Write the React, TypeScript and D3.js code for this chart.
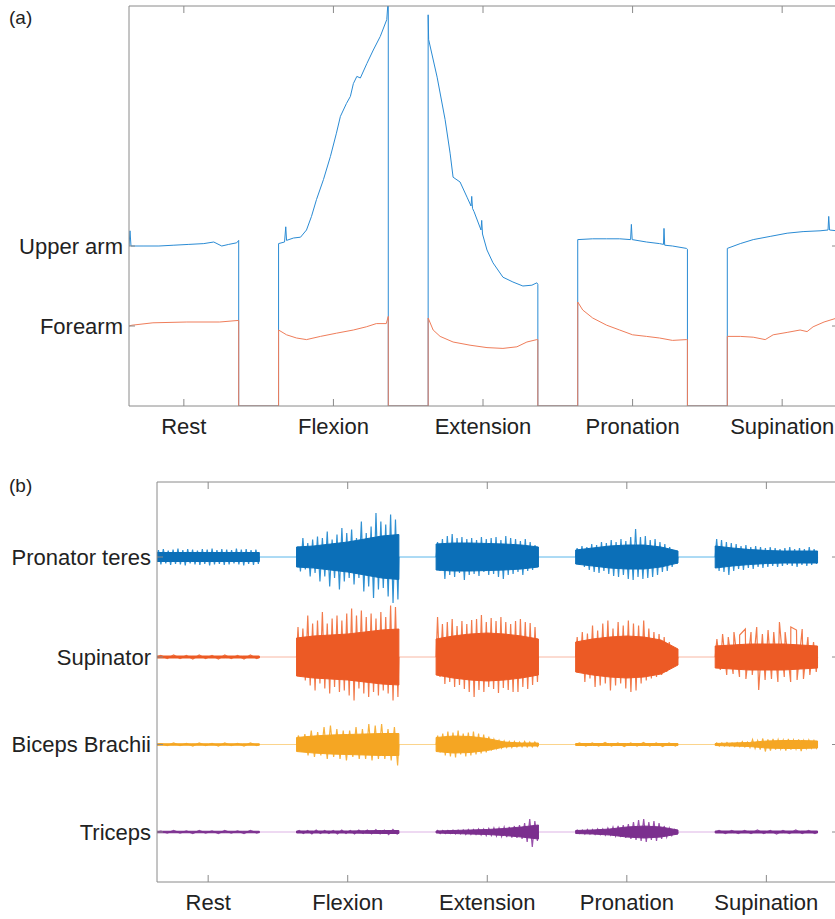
import React from 'react';
import * as d3 from 'd3';

// ---------- shared phase layout ----------
const phases = ['Rest', 'Flexion', 'Extension', 'Pronation', 'Supination'];
const phaseStart = [0, 15, 30, 45, 60];
const phaseLength = 11;

// ---------- (a) segment orientation signals: [t within phase, value] ----------
const upperArm: number[][][] = [
  [[0, 2.0], [0.1, 2.19], [0.2, 2.0], [1.5, 2.0], [3, 2.0], [4.5, 2.01], [6, 2.02], [7.5, 2.03], [8.5, 2.05], [9.3, 2.0], [10, 2.02], [10.8, 2.04], [11, 2.07]],
  [[0, 2.03], [0.6, 2.05], [0.72, 2.24], [0.8, 2.07], [1.5, 2.1], [2.2, 2.11], [2.8, 2.2], [3.3, 2.37], [3.8, 2.58], [4.5, 2.83], [5.2, 3.12], [5.8, 3.41], [6.2, 3.62], [6.8, 3.78], [7.2, 3.87], [7.5, 4.03], [7.85, 4.12], [8.2, 4.1], [8.85, 4.28], [9.5, 4.45], [10.2, 4.62], [10.85, 4.83], [11, 5.1]],
  [[0, 4.89], [0.05, 4.58], [0.9, 4.11], [1.7, 3.58], [2.2, 3.16], [2.5, 2.86], [3.2, 2.8], [3.9, 2.61], [4.3, 2.5], [4.37, 2.62], [4.45, 2.47], [4.6, 2.43], [5.3, 2.2], [5.37, 2.32], [5.45, 2.15], [5.9, 1.95], [6.5, 1.79], [7.5, 1.61], [8.5, 1.55], [9.5, 1.5], [10.4, 1.51], [10.9, 1.54], [11, 1.52]],
  [[0, 2.08], [1.5, 2.09], [2.9, 2.09], [4.2, 2.09], [5.3, 2.08], [5.38, 2.27], [5.46, 2.08], [6.9, 2.05], [8.2, 2.03], [8.6, 2.02], [8.65, 2.22], [8.72, 2.01], [9.5, 2.0], [10.9, 1.97], [11, 1.96]],
  [[0, 1.97], [1.3, 2.03], [2.6, 2.08], [4.3, 2.12], [6.0, 2.16], [7.6, 2.18], [9.3, 2.19], [10.1, 2.2], [10.17, 2.37], [10.25, 2.2], [11, 2.19]],
];
const forearm: number[][][] = [
  [[0, 1.0], [0.3, 1.01], [2.4, 1.04], [5.8, 1.05], [9.1, 1.05], [11, 1.07]],
  [[0, 0.95], [0.8, 0.89], [1.8, 0.85], [2.8, 0.83], [4.2, 0.87], [5.8, 0.91], [7.5, 0.95], [8.8, 0.99], [9.8, 1.03], [10.8, 1.03], [11, 1.12]],
  [[0, 1.1], [0.5, 0.95], [1.2, 0.87], [2.5, 0.8], [4.2, 0.76], [5.9, 0.73], [7.5, 0.72], [8.9, 0.74], [9.9, 0.8], [10.9, 0.83], [11, 0.83]],
  [[0, 1.3], [0.5, 1.2], [1.5, 1.1], [2.9, 1.01], [4.2, 0.95], [5.5, 0.89], [6.9, 0.87], [8.2, 0.85], [9.5, 0.82], [10.9, 0.83], [11, 0.83]],
  [[0, 0.87], [1.3, 0.87], [2.6, 0.86], [3.8, 0.83], [4.6, 0.89], [6.0, 0.92], [7.3, 0.95], [8.0, 0.93], [8.6, 0.99], [9.7, 1.05], [11, 1.1]],
];
const segmentLabels = ['Upper arm', 'Forearm'];
const segmentTicks = [2, 1];

// ---------- (b) EMG bursts: positive peaks, negative peaks, dense core half-width ----------
const muscles = ['Pronator teres', 'Supinator', 'Biceps Brachii', 'Triceps'];
const muscleOffsets = [6.5, 4.5, 2.75, 1.0];

const pronatorUp = [
  [0.14, 0.16, 0.13, 0.15, 0.17, 0.14, 0.16, 0.15, 0.13, 0.16, 0.15, 0.17, 0.14, 0.16, 0.15, 0.14, 0.17, 0.15, 0.16, 0.14, 0.15],
  [0.21, 0.38, 0.28, 0.35, 0.41, 0.38, 0.51, 0.35, 0.45, 0.58, 0.48, 0.55, 0.38, 0.71, 0.48, 0.61, 0.88, 0.71, 0.65, 0.85, 0.75],
  [0.3, 0.36, 0.42, 0.46, 0.38, 0.4, 0.36, 0.38, 0.34, 0.4, 0.36, 0.38, 0.4, 0.34, 0.42, 0.38, 0.36, 0.32, 0.36, 0.3, 0.24],
  [0.18, 0.22, 0.2, 0.26, 0.24, 0.3, 0.28, 0.34, 0.3, 0.36, 0.32, 0.4, 0.56, 0.4, 0.42, 0.34, 0.36, 0.3, 0.26, 0.2, 0.14],
  [0.36, 0.34, 0.3, 0.28, 0.26, 0.22, 0.24, 0.2, 0.22, 0.2, 0.18, 0.2, 0.18, 0.16, 0.18, 0.2, 0.16, 0.18, 0.16, 0.2, 0.16],
];
const pronatorDown = [
  [0.15, 0.13, 0.16, 0.14, 0.15, 0.17, 0.13, 0.15, 0.16, 0.14, 0.17, 0.15, 0.14, 0.16, 0.15, 0.13, 0.15, 0.17, 0.14, 0.16, 0.14],
  [0.29, 0.25, 0.39, 0.32, 0.49, 0.39, 0.59, 0.42, 0.65, 0.49, 0.42, 0.55, 0.42, 0.69, 0.59, 0.82, 0.65, 0.62, 0.79, 0.92, 0.85],
  [0.28, 0.44, 0.36, 0.4, 0.32, 0.46, 0.36, 0.34, 0.38, 0.3, 0.36, 0.34, 0.4, 0.44, 0.36, 0.34, 0.3, 0.36, 0.28, 0.26, 0.2],
  [0.16, 0.2, 0.26, 0.3, 0.32, 0.28, 0.34, 0.38, 0.4, 0.36, 0.44, 0.46, 0.4, 0.44, 0.42, 0.4, 0.36, 0.3, 0.28, 0.2, 0.14],
  [0.28, 0.3, 0.36, 0.28, 0.24, 0.26, 0.22, 0.24, 0.2, 0.22, 0.2, 0.18, 0.2, 0.18, 0.16, 0.18, 0.2, 0.16, 0.18, 0.16, 0.14],
];
const pronatorCore = [
  [0.09, 0.09, 0.09, 0.09, 0.09, 0.09, 0.09],
  [0.2, 0.22, 0.26, 0.3, 0.36, 0.42, 0.45],
  [0.26, 0.28, 0.28, 0.27, 0.26, 0.24, 0.2],
  [0.14, 0.18, 0.22, 0.24, 0.24, 0.2, 0.12],
  [0.22, 0.18, 0.15, 0.13, 0.12, 0.12, 0.12],
];

const supinatorUp = [
  [0.03, 0.04, 0.03, 0.04, 0.03, 0.04, 0.03, 0.04],
  [0.6, 0.57, 0.83, 0.67, 0.73, 0.9, 0.67, 0.77, 0.83, 0.73, 0.87, 0.97, 0.83, 0.93, 0.8, 0.87, 0.77, 0.9, 0.8, 1.03, 1.0],
  [0.8, 0.66, 0.7, 0.76, 0.62, 0.72, 0.66, 0.74, 0.76, 0.84, 0.7, 0.78, 0.72, 0.8, 0.7, 0.66, 0.72, 0.76, 0.7, 0.68, 0.6],
  [0.4, 0.5, 0.47, 0.63, 0.53, 0.67, 0.73, 0.57, 0.7, 0.63, 0.73, 0.67, 0.63, 0.73, 0.57, 0.5, 0.46, 0.4, 0.3, 0.13],
  [0.36, 0.46, 0.4, 0.5, 0.44, 0.56, 0.5, 0.6, 0.46, 0.54, 0.5, 0.7, 0.5, 0.6, 0.54, 0.56, 0.4, 0.3],
];
const supinatorDown = [
  [0.03, 0.03, 0.04, 0.03, 0.04, 0.03, 0.04, 0.03],
  [0.4, 0.47, 0.57, 0.67, 0.53, 0.63, 0.73, 0.6, 0.7, 0.67, 0.77, 0.87, 0.63, 0.73, 0.8, 0.7, 0.77, 0.67, 0.73, 0.87, 0.8],
  [0.4, 0.54, 0.5, 0.6, 0.56, 0.64, 0.7, 0.8, 0.66, 0.7, 0.6, 0.64, 0.72, 0.62, 0.66, 0.7, 0.7, 0.6, 0.64, 0.56, 0.5],
  [0.3, 0.5, 0.43, 0.6, 0.57, 0.53, 0.67, 0.57, 0.53, 0.63, 0.7, 0.67, 0.53, 0.47, 0.43, 0.4, 0.36, 0.3, 0.2, 0.1],
  [0.26, 0.36, 0.34, 0.4, 0.44, 0.36, 0.66, 0.46, 0.44, 0.5, 0.4, 0.5, 0.46, 0.44, 0.36, 0.3],
];
const supinatorCore = [
  [0.02, 0.02, 0.02, 0.02, 0.02, 0.02, 0.02],
  [0.38, 0.42, 0.44, 0.46, 0.5, 0.54, 0.56],
  [0.36, 0.42, 0.46, 0.48, 0.46, 0.42, 0.36],
  [0.3, 0.36, 0.4, 0.42, 0.4, 0.34, 0.16],
  [0.22, 0.24, 0.26, 0.26, 0.26, 0.24, 0.22],
];

const bicepsUp = [
  [0.02, 0.03, 0.02, 0.03, 0.02, 0.03, 0.02, 0.03],
  [0.18, 0.21, 0.28, 0.25, 0.35, 0.38, 0.31, 0.28, 0.28, 0.35, 0.31, 0.41, 0.38, 0.41, 0.31, 0.35],
  [0.18, 0.22, 0.26, 0.24, 0.28, 0.22, 0.24, 0.26, 0.22, 0.2, 0.16, 0.1, 0.08, 0.07, 0.06, 0.06, 0.05, 0.06, 0.05, 0.05],
  [0.03, 0.03, 0.04, 0.03, 0.03, 0.04, 0.03, 0.03],
  [0.03, 0.03, 0.04, 0.03, 0.04, 0.06, 0.05, 0.1, 0.08, 0.12, 0.1, 0.11, 0.1, 0.09, 0.11, 0.09, 0.1, 0.08, 0.09, 0.08],
];
const bicepsDown = [
  [0.02, 0.02, 0.03, 0.02, 0.03, 0.02, 0.03, 0.02],
  [0.15, 0.22, 0.25, 0.22, 0.29, 0.25, 0.29, 0.32, 0.25, 0.29, 0.29, 0.32, 0.29, 0.29, 0.32, 0.42],
  [0.16, 0.22, 0.24, 0.26, 0.2, 0.24, 0.22, 0.2, 0.18, 0.16, 0.12, 0.08, 0.07, 0.06, 0.06, 0.05, 0.05, 0.05, 0.05, 0.04],
  [0.03, 0.03, 0.03, 0.04, 0.03, 0.03, 0.04, 0.03],
  [0.03, 0.03, 0.03, 0.04, 0.04, 0.05, 0.06, 0.08, 0.1, 0.14, 0.12, 0.1, 0.09, 0.12, 0.1, 0.09, 0.13, 0.08, 0.07, 0.07],
];
const bicepsCore = [
  [0.015, 0.015, 0.015, 0.015, 0.015, 0.015, 0.015],
  [0.14, 0.17, 0.19, 0.2, 0.21, 0.22, 0.22],
  [0.14, 0.17, 0.16, 0.12, 0.05, 0.03, 0.03],
  [0.02, 0.02, 0.02, 0.02, 0.02, 0.02, 0.02],
  [0.02, 0.03, 0.04, 0.07, 0.08, 0.08, 0.07],
];

const tricepsUp = [
  [0.02, 0.03, 0.02, 0.03, 0.02, 0.03, 0.02, 0.03],
  [0.03, 0.03, 0.04, 0.03, 0.03, 0.04, 0.03, 0.04, 0.04, 0.05, 0.04, 0.05],
  [0.03, 0.03, 0.03, 0.04, 0.04, 0.04, 0.05, 0.05, 0.06, 0.06, 0.07, 0.08, 0.08, 0.1, 0.1, 0.12, 0.14, 0.18, 0.26, 0.22],
  [0.04, 0.04, 0.05, 0.05, 0.06, 0.06, 0.08, 0.1, 0.12, 0.14, 0.16, 0.2, 0.24, 0.26, 0.2, 0.22, 0.18, 0.12, 0.08, 0.05],
  [0.03, 0.03, 0.03, 0.04, 0.03, 0.03, 0.04, 0.03],
];
const tricepsDown = [
  [0.02, 0.02, 0.03, 0.02, 0.03, 0.02, 0.03, 0.02],
  [0.03, 0.04, 0.03, 0.03, 0.04, 0.03, 0.04, 0.03, 0.04, 0.04, 0.05, 0.04],
  [0.03, 0.03, 0.03, 0.04, 0.04, 0.05, 0.05, 0.05, 0.06, 0.07, 0.07, 0.08, 0.09, 0.1, 0.11, 0.12, 0.14, 0.2, 0.3, 0.18],
  [0.03, 0.04, 0.04, 0.05, 0.05, 0.06, 0.06, 0.08, 0.1, 0.12, 0.14, 0.16, 0.18, 0.2, 0.16, 0.18, 0.14, 0.1, 0.07, 0.04],
  [0.03, 0.03, 0.03, 0.03, 0.04, 0.03, 0.03, 0.03],
];
const tricepsCore = [
  [0.015, 0.015, 0.015, 0.015, 0.015, 0.015, 0.015],
  [0.02, 0.02, 0.02, 0.02, 0.025, 0.03, 0.03],
  [0.02, 0.03, 0.04, 0.05, 0.07, 0.1, 0.14],
  [0.03, 0.04, 0.06, 0.1, 0.12, 0.1, 0.04],
  [0.02, 0.02, 0.02, 0.02, 0.02, 0.02, 0.02],
];

const emgUp = [pronatorUp, supinatorUp, bicepsUp, tricepsUp];
const emgDown = [pronatorDown, supinatorDown, bicepsDown, tricepsDown];
const emgCore = [pronatorCore, supinatorCore, bicepsCore, tricepsCore];

// ---------- styles ----------
const FONT = '"Liberation Sans", Arial, Helvetica, sans-serif';
const AXIS = '#8a8a8a';
const TEXT = '#222222';
const topColors = ['#2a8bd4', '#ef7d5a'];
const emgColors = [
  { core: '#0b6fb8', fringe: '#2f90d2', base: '#5ab6ea' },
  { core: '#ec5a25', fringe: '#f27a4b', base: '#f8b7a3' },
  { core: '#f5a623', fringe: '#f7b13c', base: '#fbd48c' },
  { core: '#7b2f8e', fringe: '#9850aa', base: '#ddb3e5' },
];

const A = { left: 129, right: 838, top: 6, bottom: 406 };
const B = { left: 157, right: 838, top: 482, bottom: 882 };

export default function App() {
  const xA = d3.scaleLinear().domain([0, 71.1]).range([A.left, A.right]);
  const yA = d3.scaleLinear().domain([0, 5]).range([A.bottom, A.top]);
  const xB = d3.scaleLinear().domain([0, 73.2]).range([B.left, B.right]);
  const yB = d3.scaleLinear().domain([0, 8]).range([B.bottom, B.top]);

  const tickPos = phaseStart.map((s) => s + phaseLength / 2);

  // build (a) series with zero in the gaps
  const buildSeries = (segs: number[][][]) => {
    const pts: [number, number][] = [];
    segs.forEach((seg, k) => {
      const s = phaseStart[k];
      if (k > 0) pts.push([s, 0]);
      seg.forEach(([t, v]) => pts.push([s + t, v]));
      pts.push([s + phaseLength, 0]);
    });
    return pts;
  };
  const lineA = d3.line<[number, number]>().x((d) => xA(d[0])).y((d) => yA(d[1]));
  const seriesA = [buildSeries(upperArm), buildSeries(forearm)];

  const areaCore = d3
    .area<[number, number, number]>()
    .x((d) => d[0])
    .y0((d) => d[1])
    .y1((d) => d[2]);

  const fs = 22;

  return (
    <svg
      width={835}
      height={919}
      style={{ position: 'absolute', left: 0, top: 0, background: '#fff' }}
      fontFamily={FONT}
    >
      <defs>
        <clipPath id="clipA">
          <rect x={A.left} y={A.top} width={A.right - A.left} height={A.bottom - A.top} />
        </clipPath>
        <clipPath id="clipB">
          <rect x={B.left} y={B.top} width={B.right - B.left} height={B.bottom - B.top} />
        </clipPath>
      </defs>
      <rect x={0} y={0} width={835} height={919} fill="#fff" />

      {/* ---------------- panel (a) ---------------- */}
      <text x={9} y={24} fontSize={19} fill={TEXT}>(a)</text>
      <g clipPath="url(#clipA)">
        {seriesA.map((pts, i) => (
          <path key={i} d={lineA(pts) || ''} fill="none" stroke={topColors[i]} strokeWidth={1} strokeLinejoin="round" />
        ))}
      </g>
      <g stroke={AXIS} strokeWidth={1} fill="none">
        <line x1={A.left} x2={A.right} y1={A.top} y2={A.top} />
        <line x1={A.left} x2={A.right} y1={A.bottom} y2={A.bottom} />
        <line x1={A.left} x2={A.left} y1={A.top} y2={A.bottom} />
        <line x1={A.right} x2={A.right} y1={A.top} y2={A.bottom} />
        {tickPos.map((t, i) => (
          <g key={i}>
            <line x1={xA(t)} x2={xA(t)} y1={A.bottom} y2={A.bottom - 7} />
            <line x1={xA(t)} x2={xA(t)} y1={A.top} y2={A.top + 7} />
          </g>
        ))}
        {segmentTicks.map((v, i) => (
          <g key={i}>
            <line x1={A.left} x2={A.left + 6} y1={yA(v)} y2={yA(v)} />
            <line x1={A.right} x2={A.right - 6} y1={yA(v)} y2={yA(v)} />
          </g>
        ))}
      </g>
      {segmentTicks.map((v, i) => (
        <text key={i} x={123} y={yA(v)} dy="0.35em" textAnchor="end" fontSize={fs} fill={TEXT}>
          {segmentLabels[i]}
        </text>
      ))}
      {tickPos.map((t, i) => (
        <text key={i} x={xA(t)} y={434} textAnchor="middle" fontSize={fs} fill={TEXT}>
          {phases[i]}
        </text>
      ))}

      {/* ---------------- panel (b) ---------------- */}
      <text x={9} y={492} fontSize={19} fill={TEXT}>(b)</text>
      <g clipPath="url(#clipB)">
        {muscles.map((m, mi) => {
          const base = muscleOffsets[mi];
          const col = emgColors[mi];
          return (
            <g key={m}>
              <line
                x1={xB(0)}
                x2={xB(phaseStart[4] + phaseLength)}
                y1={yB(base)}
                y2={yB(base)}
                stroke={col.base}
                strokeWidth={1}
              />
              {phaseStart.map((s, k) => {
                const up = emgUp[mi][k];
                const dn = emgDown[mi][k];
                const core = emgCore[mi][k];
                const tips: [number, number][] = [];
                up.forEach((a, i) => tips.push([s + (phaseLength * (i + 0.3)) / up.length, base + a]));
                dn.forEach((a, i) => tips.push([s + (phaseLength * (i + 0.8)) / dn.length, base - a]));
                tips.sort((p, q) => p[0] - q[0]);
                const zig: [number, number][] = [[s, base], ...tips, [s + phaseLength, base]];
                const zigPath = 'M' + zig.map((p) => `${xB(p[0]).toFixed(2)},${yB(p[1]).toFixed(2)}`).join('L');
                const corePts: [number, number, number][] = core.map((c, j) => [
                  xB(s + (phaseLength * j) / (core.length - 1)),
                  yB(base + c),
                  yB(base - c),
                ]);
                return (
                  <g key={k}>
                    <path d={zigPath} fill="none" stroke={col.fringe} strokeWidth={1.2} strokeLinejoin="miter" />
                    <path d={areaCore(corePts) || ''} fill={col.core} stroke={col.core} strokeWidth={1} />
                  </g>
                );
              })}
            </g>
          );
        })}
      </g>
      <g stroke={AXIS} strokeWidth={1} fill="none">
        <line x1={B.left} x2={B.right} y1={B.top} y2={B.top} />
        <line x1={B.left} x2={B.right} y1={B.bottom} y2={B.bottom} />
        <line x1={B.left} x2={B.left} y1={B.top} y2={B.bottom} />
        <line x1={B.right} x2={B.right} y1={B.top} y2={B.bottom} />
        {tickPos.map((t, i) => (
          <g key={i}>
            <line x1={xB(t)} x2={xB(t)} y1={B.bottom} y2={B.bottom - 7} />
            <line x1={xB(t)} x2={xB(t)} y1={B.top} y2={B.top + 7} />
          </g>
        ))}
        {muscleOffsets.map((v, i) => (
          <g key={i}>
            <line x1={B.left} x2={B.left + 6} y1={yB(v)} y2={yB(v)} />
            <line x1={B.right} x2={B.right - 6} y1={yB(v)} y2={yB(v)} />
          </g>
        ))}
      </g>
      {muscles.map((m, i) => (
        <text key={m} x={151} y={yB(muscleOffsets[i])} dy="0.35em" textAnchor="end" fontSize={fs} fill={TEXT}>
          {m}
        </text>
      ))}
      {tickPos.map((t, i) => (
        <text key={i} x={xB(t)} y={910} textAnchor="middle" fontSize={fs} fill={TEXT}>
          {phases[i]}
        </text>
      ))}
    </svg>
  );
}
